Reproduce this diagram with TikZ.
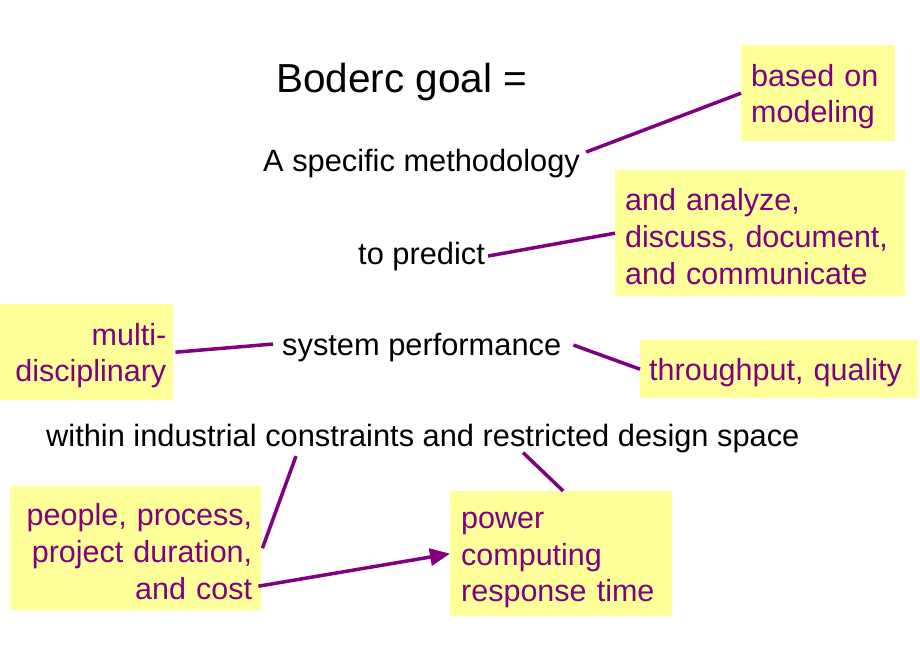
\documentclass[tikz,border=0pt]{standalone}
\usepackage{fontspec}
\setmainfont{Liberation Sans}
\usetikzlibrary{arrows.meta}
\definecolor{noteyellow}{RGB}{255,255,153}
\definecolor{notepurple}{RGB}{128,0,128}
\newcommand{\nudge}{\rule{0pt}{29pt}}
\tikzset{
  plain/.style={inner sep=0pt, anchor=base west, text=black, font=\fontsize{30.8}{36.6}\selectfont},
  note/.style={anchor=north west, fill=noteyellow, draw=none, text=notepurple,
    font=\fontsize{30.5}{36.6}\selectfont, inner ysep=0pt},
  link/.style={draw=notepurple, line width=3.5pt},
  linkarrow/.style={link, -{Triangle[length=20pt,width=17pt]}}
}
\begin{document}
\begin{tikzpicture}[x=1pt,y=-1pt]
\useasboundingbox (0,0) rectangle (920,660);
% main text
\node[plain, font=\fontsize{40.5}{48}\selectfont] (title) at (276,93) {Boderc goal =};
\node[plain] (meth) at (263,172) {A specific methodology};
\node[plain] (pred) at (358,264) {to predict};
\node[plain] (perf) at (282,355) {system performance};
\node[plain] (within) at (46,446) {within industrial constraints and restricted design space};
% notes
\node[note, minimum width=154pt, minimum height=96pt, inner xsep=10pt, text width=134pt, align=left] (based) at (741,45) {\nudge based on\\modeling};
\node[note, minimum width=290pt, minimum height=126pt, inner xsep=10pt, text width=270pt, align=left] (analyze) at (615,170) {\nudge and analyze,\\discuss, document,\\and communicate};
\node[note, minimum width=173pt, minimum height=96pt, inner xsep=7pt, text width=159pt, align=right] (multi) at (0,304) {\nudge multi-\\disciplinary};
\node[note, minimum width=278pt, minimum height=58pt, inner xsep=9pt, text width=260pt, align=left] (through) at (640,340) {\nudge throughput, quality};
\node[note, minimum width=251pt, minimum height=124pt, inner xsep=9pt, text width=233pt, align=right] (people) at (10,486) {\nudge people, process,\\project duration,\\and cost};
\node[note, minimum width=222pt, minimum height=125pt, inner xsep=11pt, text width=200pt, align=left] (power) at (450,491) {\nudge power\\computing\\response time};
% connectors
\draw[link] ([shift={(6,-12)}]meth.east) -- (based.west);
\draw[link] ([xshift=3pt]pred.east) -- (analyze.west);
\draw[link] ([xshift=2pt]multi.east) -- ([shift={(-9,-3)}]perf.west);
\draw[link] ([shift={(12,-2)}]perf.east) -- (through.west);
\draw[link] ([shift={(250,3.5)}]within.south west) -- ([xshift=1pt]people.east);
\draw[link] ([shift={(477,0)}]within.south west) -- ([xshift=2pt]power.north);
\draw[linkarrow] ([shift={(-3,38)}]people.east) -- (power.west);
\end{tikzpicture}
\end{document}
